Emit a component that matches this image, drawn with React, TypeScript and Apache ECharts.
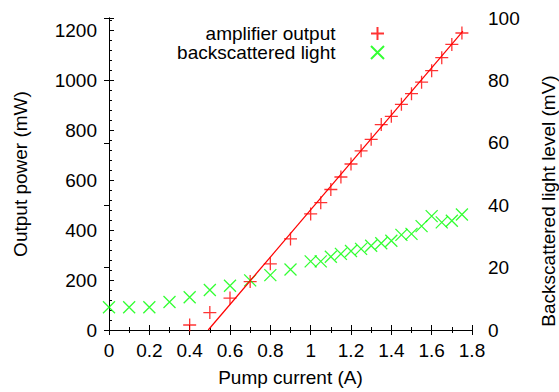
import React, { useEffect, useRef } from "react";
import * as echarts from "echarts";

const pumpCurrentAmp = [0.4, 0.5, 0.6, 0.7, 0.8, 0.9, 1.0, 1.05, 1.1, 1.15, 1.2, 1.25, 1.3, 1.35, 1.4, 1.45, 1.5, 1.55, 1.6, 1.65, 1.7, 1.75];
const amplifierOutput = [20, 70, 128, 194, 265, 365, 465, 510, 563, 613, 665, 718, 764, 823, 856, 904, 947, 993, 1039, 1091, 1144, 1190];

const pumpCurrentBack = [0, 0.1, 0.2, 0.3, 0.4, 0.5, 0.6, 0.7, 0.8, 0.9, 1.0, 1.05, 1.1, 1.15, 1.2, 1.25, 1.3, 1.35, 1.4, 1.45, 1.5, 1.55, 1.6, 1.65, 1.7, 1.75];
const backscattered = [7.3, 7.3, 7.3, 9.0, 10.5, 12.8, 14.2, 15.9, 17.6, 19.4, 22.0, 22.0, 23.5, 24.4, 25.3, 26.0, 27.0, 27.8, 28.6, 30.5, 30.8, 33.3, 36.5, 34.5, 35.0, 37.0];

const fitX = [0.492, 1.755];
const fitY = [0, 1197];

const xTicks = { min: 0, max: 1.8, interval: 0.2 };
const leftTicks = { min: 0, max: 1250, interval: 200 };
const rightTicks = { min: 0, max: 100, interval: 20 };

const FONT = "'Liberation Sans', Arial, Helvetica, sans-serif";
const PLUS = "path://M0,6L12,6M6,0L6,12";
const CROSS = "path://M0,0L12,12M12,0L0,12";

export default function App() {
  const ref = useRef<HTMLDivElement>(null);
  useEffect(() => {
    if (!ref.current) return;
    const chart = echarts.init(ref.current, null, { renderer: "svg" });
    const axisText = { color: "#000", fontFamily: FONT, fontSize: 19 };
    chart.setOption({
      animation: false,
      textStyle: { fontFamily: FONT, color: "#000" },
      grid: { left: 109, right: 87, top: 18, bottom: 56, containLabel: false },
      legend: {
        orient: "vertical",
        align: "right",
        right: 169,
        top: 19,
        itemWidth: 74,
        itemHeight: 13,
        itemGap: 0,
        symbolKeepAspect: true,
        textStyle: { ...axisText, lineHeight: 19 },
        data: ["amplifier output", "backscattered light"],
      },
      graphic: [
        {
          type: "text",
          x: 548,
          y: 201,
          rotation: Math.PI / 2,
          style: {
            text: "Backscattered light level (mV)",
            fill: "#000",
            font: `19px ${FONT}`,
            align: "center",
            verticalAlign: "middle",
          },
        },
      ],
      xAxis: [
        {
          type: "value",
          ...xTicks,
          name: "Pump current (A)",
          nameLocation: "middle",
          nameGap: 38,
          nameTextStyle: axisText,
          axisLine: { lineStyle: { color: "#000", width: 1 } },
          axisTick: { inside: true, length: 5, lineStyle: { color: "#000" } },
          minorTick: { show: true, splitNumber: 2, length: 3, lineStyle: { color: "#000" } },
          axisLabel: { ...axisText, margin: 11 },
          splitLine: { show: false },
        },
        {
          type: "value",
          position: "top",
          ...xTicks,
          axisLine: { lineStyle: { color: "#000", width: 1 } },
          axisTick: { inside: true, length: 5, lineStyle: { color: "#000" } },
          minorTick: { show: true, splitNumber: 2, length: 3, lineStyle: { color: "#000" } },
          axisLabel: { show: false },
          splitLine: { show: false },
        },
      ],
      yAxis: [
        {
          type: "value",
          ...leftTicks,
          name: "Output power (mW)",
          nameLocation: "middle",
          nameRotate: 90,
          nameGap: 79,
          nameTextStyle: axisText,
          axisLine: { show: true, lineStyle: { color: "#000", width: 1 } },
          axisTick: { inside: true, length: 5, lineStyle: { color: "#000" } },
          minorTick: { show: true, splitNumber: 5, length: 3, lineStyle: { color: "#000" } },
          axisLabel: { ...axisText, margin: 12, showMaxLabel: false, formatter: (v: number) => String(v) },
          splitLine: { show: false },
        },
        {
          type: "value",
          position: "right",
          ...rightTicks,
          axisLine: { show: true, lineStyle: { color: "#000", width: 1 } },
          axisTick: { inside: true, length: 5, lineStyle: { color: "#000" } },
          axisLabel: { ...axisText, margin: 16 },
          splitLine: { show: false },
        },
      ],
      series: [
        {
          name: "amplifier output",
          type: "scatter",
          xAxisIndex: 0,
          yAxisIndex: 0,
          symbol: PLUS,
          symbolSize: 13,
          itemStyle: { color: "rgba(0,0,0,0)", borderColor: "#ff0000", borderWidth: 1.3 },
          data: pumpCurrentAmp.map((x, i) => [x, amplifierOutput[i]]),
        },
        {
          name: "fit",
          type: "line",
          xAxisIndex: 0,
          yAxisIndex: 0,
          symbol: "none",
          lineStyle: { color: "#ff0000", width: 1.2 },
          data: fitX.map((x, i) => [x, fitY[i]]),
        },
        {
          name: "backscattered light",
          type: "scatter",
          xAxisIndex: 0,
          yAxisIndex: 1,
          symbol: CROSS,
          symbolSize: 12,
          itemStyle: { color: "rgba(0,0,0,0)", borderColor: "#00ff00", borderWidth: 1.3 },
          data: pumpCurrentBack.map((x, i) => [x, backscattered[i]]),
        },
      ],
    });
    return () => chart.dispose();
  }, []);
  return (
    <div
      ref={ref}
      style={{ position: "absolute", left: 0, top: 0, width: 559, height: 392, background: "#fff" }}
    />
  );
}
